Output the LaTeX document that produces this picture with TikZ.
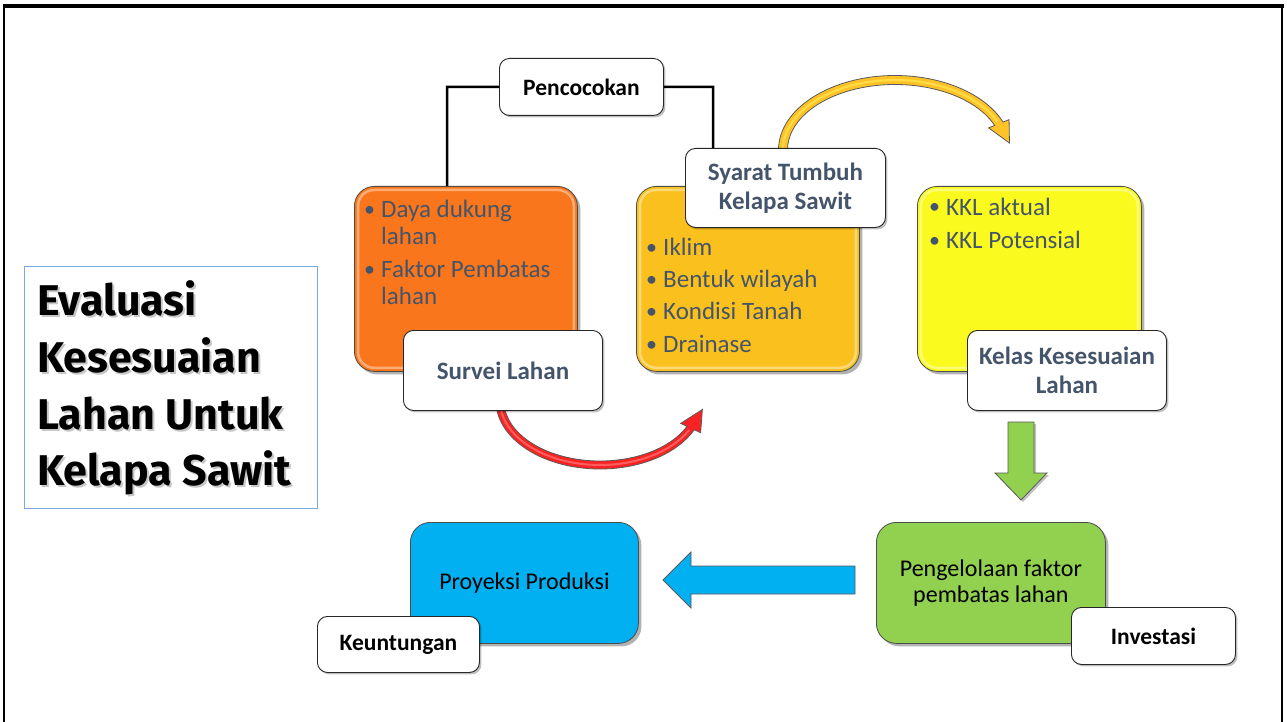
\documentclass[tikz,border=0pt]{standalone}
\usepackage{fontspec}
\setmainfont{Carlito}
\newfontfamily\titlefont{Fira Sans}
\usetikzlibrary{shadows,calc}
\definecolor{slate}{HTML}{44546A}
\definecolor{orangebox}{RGB}{250,118,28}
\definecolor{goldbox}{RGB}{250,192,30}
\definecolor{yellowbox}{RGB}{250,250,30}
\definecolor{greenbox}{RGB}{146,208,80}
\definecolor{bluebox}{RGB}{0,176,240}
\definecolor{redarrow}{RGB}{250,35,35}
\definecolor{goldarrow}{RGB}{255,195,40}
\definecolor{titleborder}{RGB}{120,170,225}
\tikzset{
 colbox/.style={rectangle, rounded corners=20pt, draw=black!70, line width=0.8pt, inner sep=0pt,
   drop shadow={shadow xshift=3pt, shadow yshift=-3pt, opacity=0.3, fill=black}},
 whitebox/.style={rectangle, rounded corners=10pt, draw=black!85, line width=0.9pt, fill=white, inner sep=0pt, align=center,
   drop shadow={shadow xshift=2pt, shadow yshift=-2pt, opacity=0.25, fill=black}},
 slatelabel/.style={font=\fontsize{25pt}{28.5pt}\selectfont\bfseries, text=slate},
 blacklabel/.style={font=\fontsize{23.5pt}{26pt}\selectfont\bfseries, text=black},
 plainlabel/.style={font=\fontsize{24pt}{26pt}\selectfont, text=black},
 bulletdot/.style={anchor=base west, inner sep=0pt, text=slate, font=\fontsize{22pt}{30pt}\selectfont},
 bullettext/.style={anchor=base west, inner sep=0pt, text=slate, font=\fontsize{25pt}{30pt}\selectfont},
 gloss/.style={draw=white, opacity=0.4, line width=2.5pt, rounded corners=16pt},
 arrowshape/.style={draw=black!65, line width=0.8pt},
 stripe/.style={line width=2pt, opacity=0.5},
 wire/.style={draw=black, line width=2.5pt},
 titletext/.style={anchor=base west, inner sep=0pt, font=\titlefont\bfseries\fontsize{43pt}{57pt}\selectfont},
}
\begin{document}
\begin{tikzpicture}[x=1pt,y=-1pt]
\useasboundingbox (0,0) rectangle (1287,722);
\fill[white] (0,0) rectangle (1287,722);
% frame
\draw[line width=4pt] (3,6.5) -- (1284,6.5);
\draw[line width=2pt] (4,6) -- (4,722);
\draw[line width=2pt] (1282,6) -- (1282,722);

% title box
\node[draw=titleborder, line width=1pt, minimum width=293pt, minimum height=242pt, inner sep=0pt, anchor=north west] (titlebox) at (24,266) {};
\foreach \t/\yy in {Evaluasi/315, Kesesuaian/372, Lahan Untuk/429, Kelapa Sawit/485}{
  \node[titletext, text=black!22] at (39,\yy+2) {\t};
  \node[titletext] at (37,\yy) {\t};
}

% coloured boxes
\node[colbox, fill=orangebox, minimum width=223pt, minimum height=185pt, anchor=north west] (orange) at (354,186) {};
\draw[gloss] ($(orange.north west)+(4,4)$) rectangle ($(orange.south east)+(-4,-4)$);
\node[colbox, fill=goldbox, minimum width=223pt, minimum height=185pt, anchor=north west] (gold) at (636,186) {};
\draw[gloss] ($(gold.north west)+(4,4)$) rectangle ($(gold.south east)+(-4,-4)$);
\node[colbox, fill=yellowbox, minimum width=224pt, minimum height=185pt, anchor=north west] (yellow) at (917,186) {};
\draw[gloss] ($(yellow.north west)+(4,4)$) rectangle ($(yellow.south east)+(-4,-4)$);

% bullets orange
\node[bulletdot] at (364,216) {\textbullet};
\node[bullettext] (o1) at (381,217) {Daya dukung};
\node[bullettext] (o2) at (381,244) {lahan};
\node[bulletdot] at (364,276) {\textbullet};
\node[bullettext] (o3) at (381,277) {Faktor Pembatas};
\node[bullettext] (o4) at (381,304) {lahan};
% bullets gold
\foreach \t/\yy in {Iklim/255, Bentuk wilayah/287, Kondisi Tanah/319, Drainase/352}{
  \node[bulletdot] at (646,\yy-1) {\textbullet};
  \node[bullettext] at (663,\yy) {\t};
}
% bullets yellow
\foreach \t/\yy in {KKL aktual/215, KKL Potensial/248}{
  \node[bulletdot] at (929,\yy-1) {\textbullet};
  \node[bullettext] at (946,\yy) {\t};
}

% red curved arrow
\coordinate (rc) at (600,401);
\coordinate (rM) at ($(rc)+(25:100 and 64)$);
\coordinate (rN) at ($(rc)+(19:100 and 64)$);
\coordinate (rtip) at ($(rM)!22pt!(rN)$);
\path[arrowshape, fill=redarrow] ($(rc)+(180:104 and 68)$) arc[start angle=180, end angle=25, x radius=104, y radius=68]
  -- ($(rc)+(25:111 and 75)$) -- (rtip) -- ($(rc)+(25:89 and 53)$) -- ($(rc)+(25:96 and 60)$)
  arc[start angle=25, end angle=180, x radius=96, y radius=60] -- cycle;
\draw[stripe, draw=red!40!white] ($(rc)+(180:100 and 64)$) arc[start angle=180, end angle=27, x radius=100, y radius=64];

% gold curved arrow
\coordinate (gc) at (895,150);
\coordinate (gM) at ($(gc)+(338:112 and 70)$);
\coordinate (gN) at ($(gc)+(344:112 and 70)$);
\coordinate (gtip) at ($(gM)!22pt!(gN)$);
\path[arrowshape, fill=goldarrow] ($(gc)+(180:116.5 and 74.5)$) arc[start angle=180, end angle=338, x radius=116.5, y radius=74.5]
  -- ($(gc)+(338:123 and 81)$) -- (gtip) -- ($(gc)+(338:101 and 59)$) -- ($(gc)+(338:107.5 and 65.5)$)
  arc[start angle=338, end angle=180, x radius=107.5, y radius=65.5] -- cycle;
\draw[stripe, draw=yellow!60!white] ($(gc)+(180:112 and 70)$) arc[start angle=180, end angle=336, x radius=112, y radius=70];

% white label boxes
\node[whitebox, blacklabel, minimum width=164pt, minimum height=57pt, anchor=north west] (pencocokan) at (499,58) {Pencocokan};
\node[whitebox, slatelabel, minimum width=200pt, minimum height=79pt, anchor=north west] (syarat) at (685,148) {Syarat Tumbuh\\Kelapa Sawit};
\node[whitebox, slatelabel, minimum width=199pt, minimum height=80pt, anchor=north west] (survei) at (403,330) {Survei Lahan};
\node[whitebox, slatelabel, minimum width=199pt, minimum height=80pt, anchor=north west] (kelas) at (967,330) {Kelas Kesesuaian\\Lahan};

% connectors of Pencocokan
\draw[wire] (pencocokan.west) -- (447,87) -- (447,186);
\draw[wire] (pencocokan.east) -- (713,87) -- (syarat.north -| 713,87);

% green down arrow
\path[arrowshape, fill=greenbox, drop shadow={shadow xshift=2pt, shadow yshift=-2pt, opacity=0.25, fill=black}]
  (1008,422) -- (1034,422) -- (1034,473) -- (1047,473) -- (1021,500) -- (995,473) -- (1008,473) -- cycle;

% bottom row
\node[colbox, fill=greenbox, minimum width=229pt, minimum height=121pt, anchor=north west, plainlabel, align=center] (green) at (876,522) {Pengelolaan faktor\\pembatas lahan};
\node[whitebox, blacklabel, minimum width=164pt, minimum height=57pt, anchor=north west] (investasi) at (1071,607) {Investasi};
\node[colbox, fill=bluebox, minimum width=228pt, minimum height=121pt, anchor=north west, plainlabel, align=center] (blue) at (410,522) {Proyeksi Produksi};
\node[whitebox, blacklabel, minimum width=162pt, minimum height=56pt, anchor=north west] (keuntungan) at (317,616) {Keuntungan};

% blue left arrow
\path[arrowshape, fill=bluebox]
  (855,566) -- (855,594) -- (691,594) -- (691,608) -- (663,580) -- (691,552) -- (691,566) -- cycle;
\end{tikzpicture}
\end{document}
